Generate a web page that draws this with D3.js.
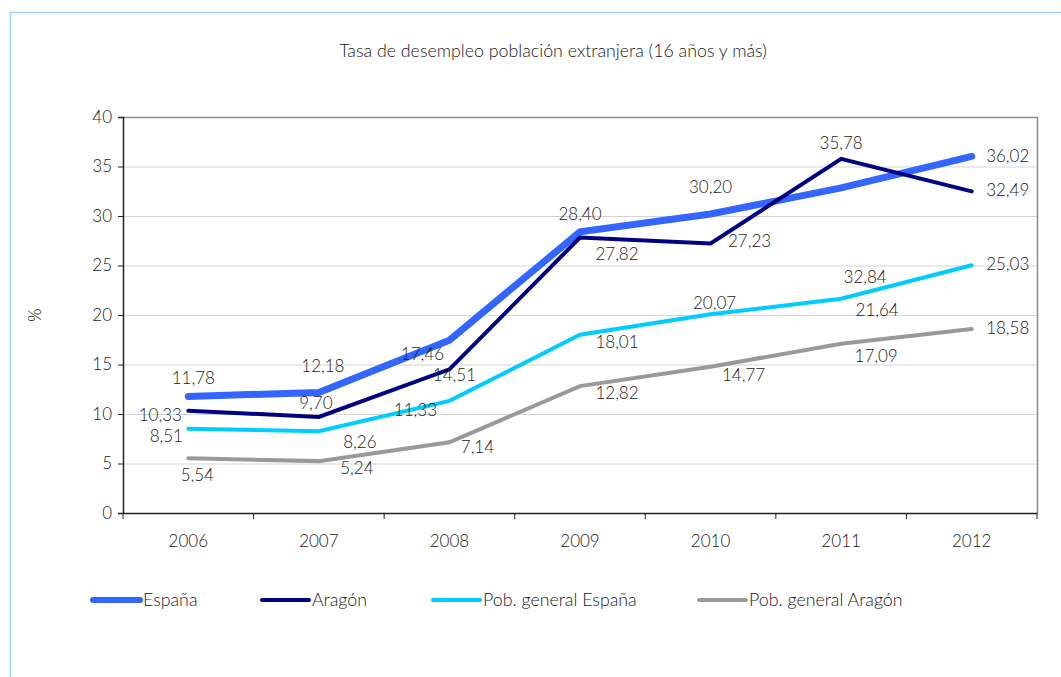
<!DOCTYPE html>
<html>
<head>
<meta charset="utf-8">
<script src="https://cdn.jsdelivr.net/npm/d3@7"></script>
<style>
  body { margin: 0; background: #fff; }
  text { font-family: "Gill Sans", Lato, sans-serif; font-weight: 300; fill: #1a1a1a; }
</style>
</head>
<body>
<div id="chart"></div>
<script>
var years = ["2006", "2007", "2008", "2009", "2010", "2011", "2012"];
var espana = [11.78, 12.18, 17.46, 28.40, 30.20, 32.84, 36.02];
var aragon = [10.33, 9.70, 14.51, 27.82, 27.23, 35.78, 32.49];
var pobEspana = [8.51, 8.26, 11.33, 18.01, 20.07, 21.64, 25.03];
var pobAragon = [5.54, 5.24, 7.14, 12.82, 14.77, 17.09, 18.58];
var seriesNames = ["España", "Aragón", "Pob. general España", "Pob. general Aragón"];
var yTicks = [0, 5, 10, 15, 20, 25, 30, 35, 40];

var width = 1061, height = 677;
var plotLeft = 123, plotRight = 1037, plotTop = 117, plotBottom = 513;

var x = d3.scaleBand().domain(years).range([plotLeft, plotRight]);
var y = d3.scaleLinear().domain([0, 40]).range([plotBottom, plotTop]);
var cx = function(d) { return x(d) + x.bandwidth() / 2; };

// label offsets (dx, dy) relative to each point
var series = [
  { name: seriesNames[0], values: espana, color: "#3366ff", w: 7,
    off: [[5,-18],[4,-26],[-27,14],[0,-18],[0,-27],[24,89],[36,0]] },
  { name: seriesNames[1], values: aragon, color: "#000080", w: 4,
    off: [[-28,4],[-3,-14],[5,6],[37,16],[39,-2],[0,-16],[36,-1]] },
  { name: seriesNames[2], values: pobEspana, color: "#00ccff", w: 4,
    off: [[-22,7],[41,11],[-34,9],[37,7],[4,-11],[36,11],[36,-1]] },
  { name: seriesNames[3], values: pobAragon, color: "#999999", w: 4,
    off: [[9,17],[38,7],[28,5],[37,7],[33,8],[35,12],[36,-1]] }
];

var svg = d3.select("#chart").append("svg")
    .attr("width", width)
    .attr("height", height);

// outer frame
svg.append("rect")
    .attr("x", 10.5).attr("y", 12.5)
    .attr("width", width + 10).attr("height", height + 10)
    .attr("fill", "none").attr("stroke", "#9fd0f5").attr("stroke-width", 1.5);

svg.append("text")
    .attr("x", 553).attr("y", 57)
    .attr("text-anchor", "middle")
    .style("font-size", "17.8px")
    .text("Tasa de desempleo población extranjera (16 años y más)");

// gridlines
svg.append("g").selectAll("line")
    .data(yTicks.slice(1, -1))
    .enter().append("line")
    .attr("x1", plotLeft).attr("x2", plotRight)
    .attr("y1", function(d) { return y(d) + 0.5; })
    .attr("y2", function(d) { return y(d) + 0.5; })
    .attr("stroke", "#d4d4d4");

// plot border top/right
svg.append("path")
    .attr("d", "M" + plotLeft + "," + (plotTop + 0.5) + "H" + (plotRight + 0.5) + "V" + plotBottom)
    .attr("fill", "none").attr("stroke", "#8c8c8c").attr("stroke-width", 1.5);

// y axis
var yAxis = d3.axisLeft(y).tickValues(yTicks).tickSize(5).tickPadding(6);
var gY = svg.append("g")
    .attr("transform", "translate(" + plotLeft + ",0)")
    .call(yAxis);
gY.select(".domain").attr("stroke", "#222").attr("stroke-width", 1.5);
gY.selectAll(".tick line").attr("stroke", "#222");
gY.selectAll(".tick text").style("font-size", "17px").attr("fill", "#1a1a1a");

// x axis
var xAxis = d3.axisBottom(x).tickSize(0).tickPadding(22);
var gX = svg.append("g")
    .attr("transform", "translate(0," + plotBottom + ")")
    .call(xAxis);
gX.select(".domain").attr("stroke", "#222").attr("stroke-width", 1.5);
gX.selectAll(".tick text").style("font-size", "17px").attr("fill", "#1a1a1a");
gX.selectAll(".bound")
    .data(years.map(function(d) { return x(d); }).concat([plotRight]))
    .enter().append("line")
    .attr("x1", function(d) { return d; }).attr("x2", function(d) { return d; })
    .attr("y1", 0).attr("y2", 6)
    .attr("stroke", "#222");

svg.append("text")
    .attr("transform", "translate(41,315) rotate(-90)")
    .attr("text-anchor", "middle")
    .style("font-size", "17px")
    .text("%");

var line = d3.line()
    .x(function(d, i) { return cx(years[i]); })
    .y(function(d) { return y(d); });

series.forEach(function(s) {
  svg.append("path")
      .datum(s.values)
      .attr("d", line)
      .attr("fill", "none")
      .attr("stroke", s.color)
      .attr("stroke-width", s.w)
      .attr("stroke-linecap", "round")
      .attr("stroke-linejoin", "miter");
});

series.forEach(function(s) {
  svg.append("g").selectAll("text")
      .data(s.values)
      .enter().append("text")
      .attr("x", function(d, i) { return cx(years[i]) + s.off[i][0]; })
      .attr("y", function(d, i) { return y(d) + s.off[i][1]; })
      .attr("dy", "0.35em")
      .attr("text-anchor", "middle")
      .style("font-size", "17px")
      .text(function(d) { return d.toFixed(2).replace(".", ","); });
});

// legend
var legX = [91, 260, 431, 697];
var leg = svg.append("g").selectAll("g")
    .data(series)
    .enter().append("g")
    .attr("transform", function(d, i) { return "translate(" + legX[i] + ",600)"; });
leg.append("line")
    .attr("x1", 2).attr("x2", 49)
    .attr("stroke", function(d) { return d.color; })
    .attr("stroke-width", function(d) { return d.w === 7 ? 6 : 4; })
    .attr("stroke-linecap", "round");
leg.append("text")
    .attr("x", 52).attr("dy", "0.35em")
    .style("font-size", "17.8px")
    .text(function(d) { return d.name; });
</script>
</body>
</html>
